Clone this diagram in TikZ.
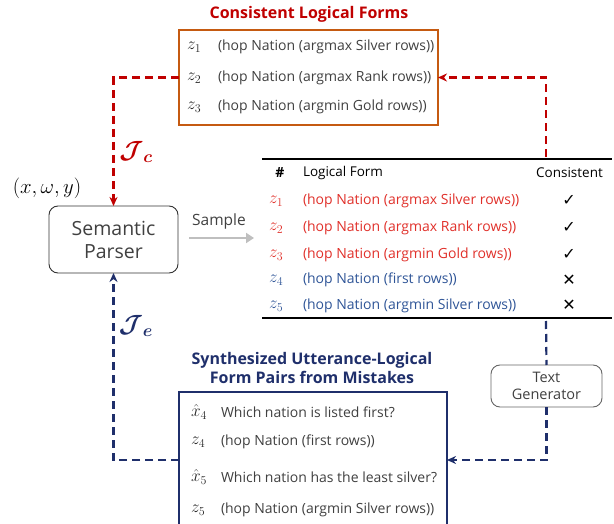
\documentclass[tikz,border=0pt]{standalone}
\usepackage{amsmath,bm}
\usepackage{fontspec}
\setmainfont{Open Sans}
\newfontfamily\symfont{DejaVu Sans}
\usetikzlibrary{arrows.meta}
\definecolor{tred}{HTML}{C00000}
\definecolor{lred}{HTML}{E0302A}
\definecolor{lblue}{HTML}{2F5597}
\definecolor{navy}{HTML}{1F2F6B}
\definecolor{orng}{HTML}{C55A11}
\definecolor{txt}{HTML}{404040}
\begin{document}
\begin{tikzpicture}[x=1pt,y=-1pt,
  every node/.style={inner sep=0pt,outer sep=0pt,text=txt},
  rowtext/.style={anchor=west,font=\fontsize{14}{16}\selectfont},
  rowlab/.style={anchor=west,text=black!85,font=\fontsize{17}{17}\selectfont},
  ttl/.style={font=\bfseries\fontsize{16}{19}\selectfont},
  reddash/.style={draw=tred,line width=2.2pt,dash pattern=on 8pt off 5pt,-{Stealth[length=9pt,width=8pt]}},
  bluedash/.style={draw=navy,line width=2.2pt,dash pattern=on 8pt off 5pt},
  rbox/.style={draw=black!80,rounded corners=9pt,line width=0.9pt,align=center}]
\useasboundingbox (0,0) rectangle (614,524);
\clip (0,0) rectangle (614,524);
% top box
\node[ttl,text=tred] (t1) at (309,14) {Consistent Logical Forms};
\node[draw=orng,line width=2pt,minimum width=259pt,minimum height=95pt] (top) at (308.5,77.5) {};
\node[rowlab] (a1) at (187,47) {$z_1$};
\node[rowtext] (b1) at (218,47) {(hop Nation (argmax Silver rows))};
\node[rowlab] (a2) at (187,78) {$z_2$};
\node[rowtext] (b2) at (218,78) {(hop Nation (argmax Rank rows))};
\node[rowlab] (a3) at (187,107) {$z_3$};
\node[rowtext] (b3) at (218,107) {(hop Nation (argmin Gold rows))};
% parser
\node[rbox,minimum width=129pt,minimum height=67pt,font=\fontsize{19.5}{23}\selectfont] (sp) at (113.5,239.5) {Semantic\\Parser};
\node[font=\fontsize{22}{24}\selectfont,text=black] (xwy) at (47,188) {$(x,\omega,y)$};
\node[text=tred,font=\fontsize{26}{28}\selectfont] (jc) at (136,152) {$\bm{\mathcal{J}_c}$};
\node[text=navy,font=\fontsize{26}{28}\selectfont] (je) at (136,326) {$\bm{\mathcal{J}_e}$};
% sample arrow
\coordinate (s1) at (189,238);
\coordinate (s2) at (254,238);
\draw[draw=black!25,line width=2.5pt,-{Triangle[length=8pt,width=10pt]}] (s1) -- (s2);
\node[font=\fontsize{15.5}{17}\selectfont] (samp) at (219,221) {Sample};
% table
\coordinate (r1l) at (262,159); \coordinate (r1r) at (612,159);
\coordinate (r2l) at (262,318); \coordinate (r2r) at (612,318);
\draw[line width=1.2pt,black] (r1l) -- (r1r);
\draw[line width=1.2pt,black] (r2l) -- (r2r);
\node[font=\bfseries\fontsize{14}{16}\selectfont,text=black] (h1) at (280,173) {\#};
\node[anchor=west,font=\fontsize{13.5}{16}\selectfont,text=black] (h2) at (303,173) {Logical Form};
\node[font=\fontsize{13.5}{16}\selectfont,text=black] (h3) at (569.5,173) {Consistent};
\node[rowlab,text=lred] (c1) at (269,201) {$z_1$};
\node[rowtext,text=lred] (d1) at (303,201) {(hop Nation (argmax Silver rows))};
\node[text=black,font=\symfont\fontsize{16}{16}\selectfont] (e1) at (569,200) {✓};
\node[rowlab,text=lred] (c2) at (269,228) {$z_2$};
\node[rowtext,text=lred] (d2) at (303,228) {(hop Nation (argmax Rank rows))};
\node[text=black,font=\symfont\fontsize{16}{16}\selectfont] (e2) at (569,227) {✓};
\node[rowlab,text=lred] (c3) at (269,255) {$z_3$};
\node[rowtext,text=lred] (d3) at (303,255) {(hop Nation (argmin Gold rows))};
\node[text=black,font=\symfont\fontsize{16}{16}\selectfont] (e3) at (569,254) {✓};
\node[rowlab,text=lblue] (c4) at (269,280) {$z_4$};
\node[rowtext,text=lblue] (d4) at (303,280) {(hop Nation (first rows))};
\node[text=black,font=\symfont\fontsize{16}{16}\selectfont] (e4) at (569,280) {✕};
\node[rowlab,text=lblue] (c5) at (269,306) {$z_5$};
\node[rowtext,text=lblue] (d5) at (303,306) {(hop Nation (argmin Silver rows))};
\node[text=black,font=\symfont\fontsize{16}{16}\selectfont] (e5) at (569,305) {✕};
% text generator
\node[rbox,draw=black!60,minimum width=111pt,minimum height=42pt,font=\fontsize{14.5}{17}\selectfont] (tg) at (546.5,386) {Text\\Generator};
% bottom box
\node[ttl,text=navy,align=center] (t2) at (312,367.5) {Synthesized Utterance-Logical\\Form Pairs from Mistakes};
\node[draw=navy,line width=2pt,anchor=north west,minimum width=268pt,minimum height=180pt] (bot) at (179,392) {};
\node[rowlab] (f1) at (191,412) {$\hat{x}_4$};
\node[rowtext] (g1) at (221,412) {Which nation is listed first?};
\node[rowlab] (f2) at (191,442) {$z_4$};
\node[rowtext] (g2) at (221,442) {(hop Nation (first rows))};
\node[rowlab] (f3) at (191,477) {$\hat{x}_5$};
\node[rowtext] (g3) at (221,477) {Which nation has the least silver?};
\node[rowlab] (f4) at (191,510) {$z_5$};
\node[rowtext] (g4) at (221,510) {(hop Nation (argmin Silver rows))};
% connectors
\coordinate (rc) at (546,157);
\draw[reddash] (top.west) -| (sp.north);
\draw[reddash] (rc) |- (top.east);
\coordinate (bc) at (546,321);
\coordinate (be) at (447,460);
\coordinate (bw) at (179,460);
\draw[bluedash] (bc) -- (tg.north);
\draw[bluedash,-{Stealth[length=9pt,width=8pt]}] (tg.south) |- (be);
\draw[bluedash,-{Stealth[length=9pt,width=8pt]}] (bw) -| (sp.south);
\end{tikzpicture}
\end{document}
